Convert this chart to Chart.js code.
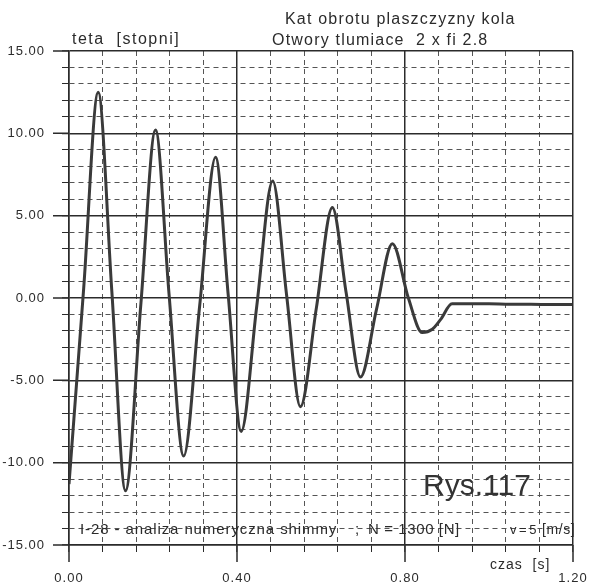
<!DOCTYPE html>
<html>
<head>
<meta charset="utf-8">
<script src="https://cdn.jsdelivr.net/npm/chart.js@4.4.1/dist/chart.umd.min.js"></script>
<style>
body { margin: 0; background: #fff; }
canvas { display: block; }
</style>
</head>
<body>
<canvas id="shimmyChart" width="589" height="587"></canvas>
<script>
// czas [s] / teta [stopni]
const czas = [0, 0.035, 0.0695, 0.102, 0.1345, 0.171, 0.206, 0.238, 0.273, 0.311, 0.349, 0.379, 0.41,
    0.447, 0.485, 0.518, 0.551, 0.589, 0.627, 0.66, 0.694, 0.732, 0.77, 0.808, 0.841, 0.865, 0.885,
    0.912, 0.95, 1.0, 1.05, 1.1, 1.15, 1.198];
const teta = [-11.3, 0.6, 12.5, 0.4, -11.7, -0.4, 10.2, 0.3, -9.6, -0.5, 8.55, 0.2, -8.1,
    -0.5, 7.1, 0.2, -6.6, -0.6, 5.5, 0.3, -4.8, -0.7, 3.3, 0.0, -2.1, -1.9, -1.3,
    -0.35, -0.35, -0.35, -0.38, -0.38, -0.4, -0.4];

const xMajor = [0, 0.4, 0.8, 1.2];
const yMajor = [-15, -10, -5, 0, 5, 10, 15];
const titleLines = ['Kat obrotu plaszczyzny kola', 'Otwory tlumiace  2 x fi 2.8'];
const yTitle = 'teta  [stopni]';
const xTitle = 'czas  [s]';
const note = ['I-28 - analiza numeryczna shimmy', ';', 'N = 1300 [N]', 'v = 5', '[m/s]'];
const figLabel = 'Rys.117';

const FONT = "'Liberation Sans', Arial, sans-serif";
const INK = '#2b2b2b';

function isMajor(list, v) {
    return list.some(m => Math.abs(m - v) < 1e-6);
}

function text(ctx, str, x, y, size, spacing) {
    ctx.font = size + 'px ' + FONT;
    ctx.letterSpacing = spacing + 'px';
    ctx.fillText(str, x, y);
}

const decorations = {
    id: 'decorations',
    beforeDraw(chart) {
        chart.ctx.letterSpacing = '1px';
    },
    afterDraw(chart) {
        const ctx = chart.ctx;
        const xs = chart.scales.x;
        const ys = chart.scales.y;
        const area = chart.chartArea;
        ctx.save();
        // longer ticks at the major divisions
        ctx.strokeStyle = INK;
        ctx.lineWidth = 1.5;
        ctx.beginPath();
        xMajor.forEach(v => {
            const px = xs.getPixelForValue(v);
            ctx.moveTo(px, area.bottom);
            ctx.lineTo(px, area.bottom + 17);
        });
        yMajor.forEach(v => {
            const py = ys.getPixelForValue(v);
            ctx.moveTo(area.left, py);
            ctx.lineTo(area.left - 16, py);
        });
        ctx.stroke();

        ctx.fillStyle = INK;
        ctx.textBaseline = 'middle';
        ctx.textAlign = 'left';
        text(ctx, titleLines[0], 285, 20, 16, 1.2);
        text(ctx, titleLines[1], 272, 41, 16, 1.2);
        text(ctx, yTitle, 72, 40, 16, 1.5);
        text(ctx, xTitle, 490, 565, 14, 1);
        text(ctx, note[0], 80, 530, 15, 0.9);
        text(ctx, note[1], 355, 530, 15, 0.9);
        text(ctx, note[2], 368, 530, 15, 0.6);
        text(ctx, note[3], 510, 530, 13, -0.5);
        text(ctx, note[4], 542, 530, 14, 0.6);
        ctx.fillStyle = '#333';
        text(ctx, figLabel, 423, 487, 30, 0);
        ctx.restore();
        ctx.letterSpacing = '0px';
    }
};

const points = czas.map((t, i) => ({ x: t, y: teta[i] }));

const gridColor = c => isMajor(c.scale.id === 'x' ? xMajor : yMajor, c.tick.value) ? INK : '#555';
const gridWidth = c => isMajor(c.scale.id === 'x' ? xMajor : yMajor, c.tick.value) ? 1.5 : 1;
const gridDash = c => isMajor(c.scale.id === 'x' ? xMajor : yMajor, c.tick.value) ? [] : [5, 4];

new Chart(document.getElementById('shimmyChart'), {
    type: 'line',
    data: {
        datasets: [{
            data: points,
            borderColor: '#3a3a3a',
            borderWidth: 3,
            pointRadius: 0,
            fill: false,
            cubicInterpolationMode: 'monotone'
        }]
    },
    options: {
        responsive: false,
        animation: false,
        layout: { padding: { top: 51, right: 16, left: 0, bottom: 0 } },
        plugins: { legend: { display: false }, tooltip: { enabled: false } },
        scales: {
            x: {
                type: 'linear',
                min: 0,
                max: 1.2,
                afterFit(scale) {
                    scale.height = 42;
                    scale.paddingLeft = 0;
                    scale.paddingRight = 0;
                },
                ticks: {
                    stepSize: 0.08,
                    autoSkip: false,
                    maxRotation: 0,
                    padding: 19,
                    color: INK,
                    font: { family: FONT, size: 13 },
                    callback: v => isMajor(xMajor, v) ? v.toFixed(2) : ''
                },
                grid: { color: gridColor, lineWidth: gridWidth, tickLength: 7, tickColor: INK, tickWidth: 1 },
                border: { color: INK, width: 1.5, dash: gridDash }
            },
            y: {
                min: -15,
                max: 15,
                afterFit(scale) {
                    scale.width = 69;
                    scale.paddingTop = 0;
                    scale.paddingBottom = 0;
                },
                ticks: {
                    stepSize: 1,
                    autoSkip: false,
                    padding: 17,
                    color: INK,
                    font: { family: FONT, size: 13 },
                    callback: v => isMajor(yMajor, v) ? v.toFixed(2) : ''
                },
                grid: { color: gridColor, lineWidth: gridWidth, tickLength: 7, tickColor: INK, tickWidth: 1 },
                border: { color: INK, width: 1.5, dash: gridDash }
            }
        }
    },
    plugins: [decorations]
});
</script>
</body>
</html>
